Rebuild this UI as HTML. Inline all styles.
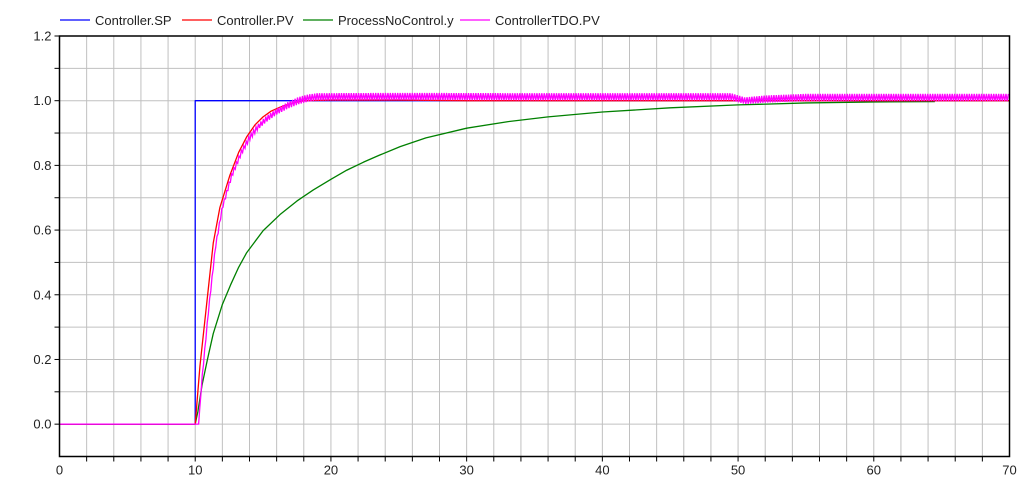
<!DOCTYPE html>
<html><head><meta charset="utf-8"><style>
body{margin:0;background:#fff;font-family:"Liberation Sans",sans-serif}
svg text{font-family:"Liberation Sans",sans-serif;font-size:13px;fill:#222}
</style></head><body>
<svg id="chart" width="1034" height="481" xmlns="http://www.w3.org/2000/svg">
<g id="grid"></g>
<g id="series"></g>
<g id="axes"></g>
<g id="legend"></g>
</svg>
<script>
const xTicks=[0,10,20,30,40,50,60,70];
const yTicks=[0.0,0.2,0.4,0.6,0.8,1.0,1.2];
const spT=[0,10,10,70];
const spV=[0,0,1,1];
const pvT=[0,10,10.35,10.84,11.33,11.82,12.56,13.2,13.79,14.4,15.0,15.6,16.25,17.1,18,20,25,30,40,50,70];
const pvV=[0,0,0.18,0.37,0.56,0.67,0.77,0.84,0.888,0.925,0.95,0.968,0.98,0.992,1.0,1.002,1.002,1.0,1.0,1.0,1.0];
const gT=[0,10,10.2,10.5,10.9,11.33,12,12.6,13.2,13.79,15,16.25,17.5,18.7,20,21.16,22.4,23.6,25.1,27,30,33,36,40,45,50,55,60,64.5];
const gV=[0,0,0.04,0.12,0.2,0.28,0.37,0.43,0.485,0.53,0.598,0.648,0.69,0.724,0.757,0.785,0.81,0.832,0.858,0.885,0.915,0.935,0.95,0.965,0.978,0.987,0.993,0.996,0.997];
const tdoT=[0,10.25,10.5,11,11.5,12,12.7,13.4,14,14.6,15.2,16,16.8,17.6,18.3,19,25,35,45,49.5,50.5,52,55,70];
const tdoV=[0,0,0.14,0.36,0.55,0.67,0.77,0.84,0.885,0.918,0.942,0.966,0.985,1.0,1.008,1.012,1.013,1.012,1.012,1.012,1.0,1.005,1.01,1.01];
const tdoAmp=[0,0,0.005,0.005,0.006,0.006,0.007,0.007,0.008,0.008,0.009,0.009,0.01,0.011,0.011,0.011,0.011,0.011,0.011,0.011,0.01,0.011,0.011,0.011];
const L=59.5,R=1009.5,T=36,B=456.5,xMin=0,xMax=70,yMin=-0.1,yMax=1.2;
const sx=v=>L+(v-xMin)/(xMax-xMin)*(R-L);
const sy=v=>B-(v-yMin)/(yMax-yMin)*(B-T);
const NS="http://www.w3.org/2000/svg";
function mk(tag,parent,attrs){const e=document.createElementNS(NS,tag);for(const k in attrs)e.setAttribute(k,attrs[k]);parent.appendChild(e);return e;}
const grid=document.getElementById('grid'),axes=document.getElementById('axes'),series=document.getElementById('series'),legend=document.getElementById('legend');
for(let x=2;x<70;x+=2){const l=mk('line',grid,{x1:sx(x),x2:sx(x),y1:T,y2:B,stroke:'#c0c0c0','stroke-width':1});


const t=mk('line',axes,{x1:sx(x),x2:sx(x),y1:B,y2:B+5,stroke:'#000'});

}
for(let i=0;i<=12;i++){const y=i/10;const l=mk('line',grid,{x1:L,x2:R,y1:sy(y),y2:sy(y),stroke:'#c0c0c0','stroke-width':1});


const t=mk('line',axes,{x1:L-5,x2:L,y1:sy(y),y2:sy(y),stroke:'#000'});

}
const fr=mk('rect',axes,{x:L,y:T,width:R-L,height:B-T,fill:'none',stroke:'#000','stroke-width':1.5});


xTicks.forEach(v=>{const t=mk('text',axes,{x:sx(v),y:B+18,'text-anchor':'middle'});t.textContent=v;

});
yTicks.forEach(v=>{const t=mk('text',axes,{x:L-8,y:sy(v)+4.5,'text-anchor':'end'});t.textContent=v.toFixed(1);

});
function path(ts,vs,color,name){const d=ts.map((t,i)=>(i?'L':'M')+sx(t).toFixed(2)+','+sy(vs[i]).toFixed(2)).join('');
const p=mk('path',series,{d:d,fill:'none',stroke:color,'stroke-width':1.3,'stroke-linejoin':'round'});

}
path(gT,gV,'#008000','process-no-control-line');
path(spT,spV,'#0000ff','controller-sp-line');
path(pvT,pvV,'#ff0000','controller-pv-line');
function interp(ts,vs,t){for(let i=1;i<ts.length;i++){if(t<=ts[i]){const f=(t-ts[i-1])/((ts[i]-ts[i-1])||1);return vs[i-1]+f*(vs[i]-vs[i-1]);}}return vs[vs.length-1];}
let d='M'+sx(0)+','+sy(0)+'L'+sx(10.25)+','+sy(0);let k=0;
for(let t=10.25;t<=70;t+=0.09){const m=interp(tdoT,tdoV,t),a=interp(tdoT,tdoAmp,t);const v=m+(k%2?a:-a);k++;d+='L'+sx(t).toFixed(2)+','+sy(v).toFixed(2);}
const mp=mk('path',series,{d:d,fill:'none',stroke:'#ff00ff','stroke-width':1.3});


const leg=[['Controller.SP','#0000ff',60],['Controller.PV','#ff0000',182],['ProcessNoControl.y','#008000',303],['ControllerTDO.PV','#ff00ff',460]];
leg.forEach(([n,c,x])=>{const g=mk('g',legend,{});


mk('line',g,{x1:x,x2:x+30,y1:20,y2:20,stroke:c,'stroke-width':1.2});
const t=mk('text',g,{x:x+35,y:25});t.textContent=n;});
</script>
</body></html>
